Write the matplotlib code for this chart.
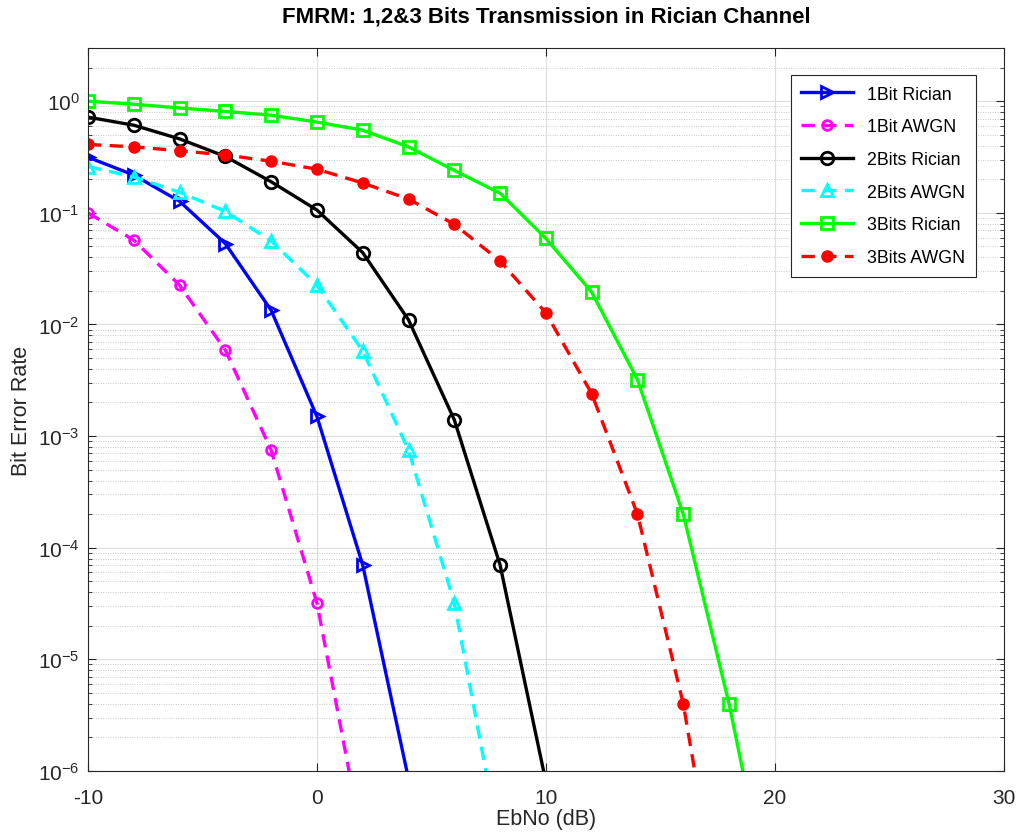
import matplotlib
matplotlib.use("Agg")
import matplotlib.pyplot as plt
from matplotlib.ticker import LogLocator, NullFormatter

plt.rcParams["font.family"] = ["Liberation Sans", "DejaVu Sans"]
plt.rcParams["mathtext.default"] = "regular"
plt.rcParams["axes.unicode_minus"] = False

# EbNo axis (dB)
ebno = [-10, -8, -6, -4, -2, 0, 2, 4, 6, 8, 10, 12, 14, 16, 18, 20]

# BER values
ber_1bit_rician = [0.315, 0.218, 0.127, 0.053, 0.0134, 0.0015, 7e-5, 8.5e-7]
ber_1bit_awgn = [0.1, 0.057, 0.0225, 0.0059, 7.5e-4, 3.2e-5, 2.3e-7]
ber_2bit_rician = [0.72, 0.61, 0.46, 0.32, 0.19, 0.106, 0.044, 0.011, 0.0014, 7e-5, 8e-7]
ber_2bit_awgn = [0.26, 0.21, 0.153, 0.103, 0.056, 0.0225, 0.0058, 7.5e-4, 3.2e-5, 2.1e-7]
ber_3bit_rician = [1.0, 0.94, 0.87, 0.81, 0.75, 0.65, 0.55, 0.39, 0.24, 0.15, 0.059,
                   0.0195, 0.0032, 2e-4, 4e-6, 4e-8]
ber_3bit_awgn = [0.41, 0.39, 0.36, 0.33, 0.29, 0.246, 0.185, 0.133, 0.079, 0.037, 0.0127,
                 0.0024, 2e-4, 4e-6, 1.6e-8]

fig = plt.figure(figsize=(10.17, 8.37), dpi=100)
ax = fig.add_axes([0.0865, 0.0777, 0.9005, 0.8638])

lw = 2.4
ax.semilogy(ebno[:len(ber_1bit_rician)], ber_1bit_rician, "->", color="blue", lw=lw,
            ms=9, mew=2, mfc="none", label="1Bit Rician")
ax.semilogy(ebno[:len(ber_1bit_awgn)], ber_1bit_awgn, "--o", color="magenta", lw=lw,
            ms=7, mew=2, mfc="none", dashes=(4, 2.5), label="1Bit AWGN")
ax.semilogy(ebno[:len(ber_2bit_rician)], ber_2bit_rician, "-o", color="black", lw=lw,
            ms=9, mew=2, mfc="none", label="2Bits Rician")
ax.semilogy(ebno[:len(ber_2bit_awgn)], ber_2bit_awgn, "--^", color="cyan", lw=lw,
            ms=8, mew=2, mfc="none", dashes=(4, 2.5), label="2Bits AWGN")
ax.semilogy(ebno[:len(ber_3bit_rician)], ber_3bit_rician, "-s", color="#00ff00", lw=lw,
            ms=9, mew=2, mfc="none", label="3Bits Rician")
ax.semilogy(ebno[:len(ber_3bit_awgn)], ber_3bit_awgn, "--o", color="red", lw=lw,
            ms=8, mew=1, dashes=(4, 2.5), label="3Bits AWGN")

ax.set_xlim(-10, 30)
ax.set_ylim(1e-6, 3)
ax.set_xticks([-10, 0, 10, 20, 30])
ax.set_yticks([1e-6, 1e-5, 1e-4, 1e-3, 1e-2, 1e-1, 1e0])
ax.yaxis.set_minor_locator(LogLocator(base=10, subs=range(2, 10), numticks=20))
ax.yaxis.set_minor_formatter(NullFormatter())

ax.grid(which="major", color="#dcdcdc", lw=0.8, ls="-")
ax.grid(which="minor", axis="y", color="#c8c8c8", lw=0.7, ls=(0, (1, 1.5)))
ax.set_axisbelow(True)

for s in ax.spines.values():
    s.set_color("#262626")
    s.set_linewidth(0.8)
ax.tick_params(which="both", direction="in", top=True, right=True,
               colors="#262626", labelsize=15)
ax.tick_params(which="major", length=6)
ax.tick_params(which="minor", length=3)
ax.tick_params(axis="x", pad=12)
ax.tick_params(axis="y", pad=6)

ax.set_xlabel("EbNo (dB)", fontsize=15.5, color="#262626", labelpad=1)
ax.set_ylabel("Bit Error Rate", fontsize=15.5, color="#262626", labelpad=4)
ax.set_title("FMRM: 1,2&3 Bits Transmission in Rician Channel", fontsize=16,
             fontweight="bold", pad=19)

leg = ax.legend(loc="upper right", bbox_to_anchor=(0.9597, 0.9092),
                bbox_transform=fig.transFigure, borderaxespad=0, fontsize=12.8,
                fancybox=False, edgecolor="#262626", framealpha=1, handlelength=2.9,
                labelspacing=0.88, borderpad=0.6)
leg.get_frame().set_linewidth(0.8)

fig.savefig("out.png", dpi=100)
